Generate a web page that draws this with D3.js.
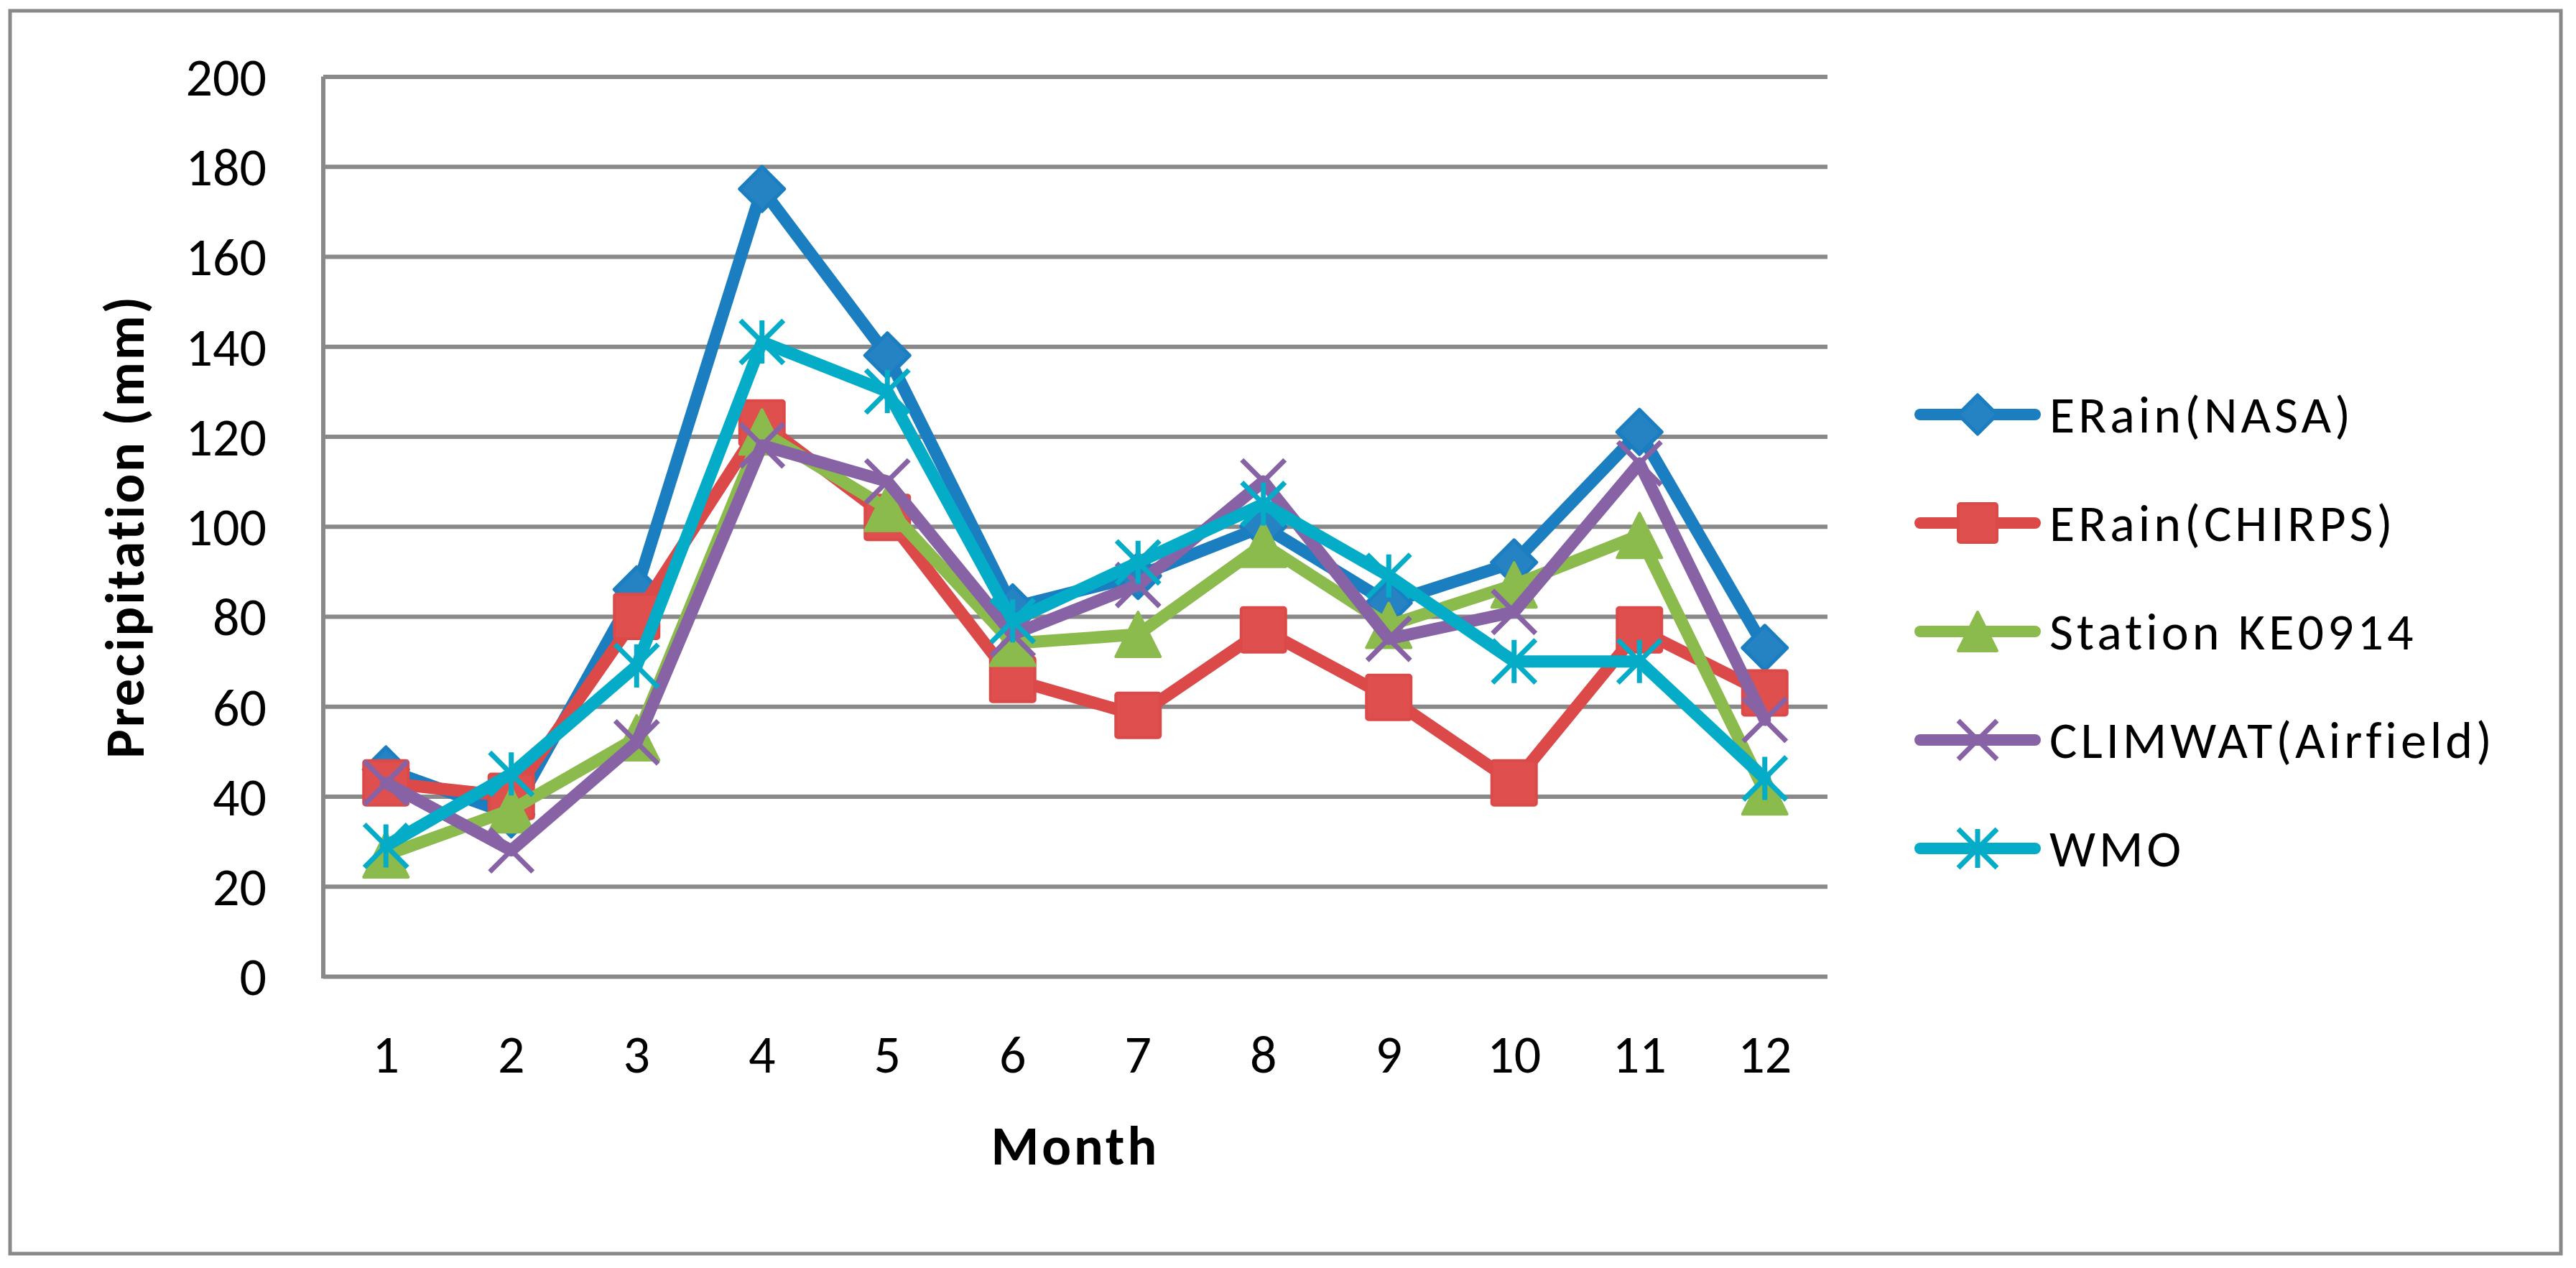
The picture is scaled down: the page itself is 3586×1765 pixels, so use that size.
<!DOCTYPE html>
<html>
<head>
<meta charset="utf-8">
<script src="https://cdn.jsdelivr.net/npm/d3@7"></script>
<style>
  html, body { margin: 0; padding: 0; background: #fff; }
  svg { display: block; }
  text { font-family: Carlito, Calibri, Lato, sans-serif; fill: #000; }
</style>
</head>
<body>
<svg id="chart" width="3586" height="1765"></svg>
<script>
// monthly precipitation (mm)
const months = [1, 2, 3, 4, 5, 6, 7, 8, 9, 10, 11, 12];
const erainNasa = [46, 36, 86, 175, 138, 82, 89, 100, 83, 92, 121, 73];
const erainChirps = [43, 40, 80, 123, 102, 66, 58, 77, 62, 43, 77, 63];
const stationKE0914 = [27, 37, 53, 121, 104, 74, 76, 96, 78, 87, 98, 41];
const climwatAirfield = [43, 28, 52, 118, 110, 76, 87, 110, 75, 81, 114, 57];
const wmo = [29, 45, 69, 141, 130, 79, 92, 105, 89, 70, 70, 44];
const yTicks = [0, 20, 40, 60, 80, 100, 120, 140, 160, 180, 200];

const series = [
  { name: 'ERain(NASA)', values: erainNasa, color: '#1a7ec0', fill: '#2583c4', marker: 'diamond' },
  { name: 'ERain(CHIRPS)', values: erainChirps, color: '#db4a48', fill: '#de4f4e', marker: 'square' },
  { name: 'Station KE0914', values: stationKE0914, color: '#8bba4d', fill: '#8bba4d', marker: 'triangle' },
  { name: 'CLIMWAT(Airfield)', values: climwatAirfield, color: '#8763a6', fill: 'none', marker: 'x' },
  { name: 'WMO', values: wmo, color: '#04acc7', fill: 'none', marker: 'star' }
];

const plot = { left: 450, right: 2544, top: 106.5, bottom: 1359 };
const grid = '#898989';
const fontSize = 72;
const tickSize = 74;
const fontFamily = 'Carlito, Calibri, Lato, sans-serif';

const svg = d3.select('#chart');

// outer frame
svg.append('rect')
  .attr('x', 14).attr('y', 15)
  .attr('width', 3565 - 14).attr('height', 1745 - 15)
  .attr('fill', '#fff')
  .attr('stroke', grid)
  .attr('stroke-width', 5);

const x = d3.scaleBand().domain(months).range([plot.left, plot.right]);
const cx = m => x(m) + x.bandwidth() / 2;
const y = d3.scaleLinear().domain([0, 200]).range([plot.bottom, plot.top]);

// horizontal gridlines + y labels
const yAxis = d3.axisLeft(y).tickValues(yTicks)
  .tickSize(-(plot.right - plot.left)).tickPadding(79).tickFormat(d3.format('d'));
const gy = svg.append('g')
  .attr('transform', `translate(${plot.left},0)`)
  .call(yAxis);
gy.select('.domain').attr('stroke', grid).attr('stroke-width', 6)
  .attr('d', `M0,${plot.top}V${plot.bottom + 3}`);
gy.selectAll('.tick line').attr('stroke', grid).attr('stroke-width', 6);
gy.selectAll('.tick text')
  .attr('font-size', tickSize)
  .attr('font-family', fontFamily)
  .attr('fill', '#000')
  .attr('dy', '0.35em');

// x labels
const xAxis = d3.axisBottom(x).tickSize(0).tickPadding(0);
const gx = svg.append('g')
  .attr('transform', `translate(0,${plot.bottom})`)
  .call(xAxis);
gx.select('.domain').remove();
gx.selectAll('.tick text')
  .attr('font-size', tickSize)
  .attr('font-family', fontFamily)
  .attr('fill', '#000')
  .attr('dy', 0)
  .attr('y', 1493 - plot.bottom);

// axis titles
svg.append('text')
  .attr('x', (plot.left + plot.right) / 2).attr('y', 1621)
  .attr('text-anchor', 'middle')
  .attr('font-size', 76).attr('font-weight', 'bold')
  .attr('letter-spacing', 4)
  .text('Month');

svg.append('text')
  .attr('transform', `translate(200,${(plot.top + plot.bottom) / 2}) rotate(-90)`)
  .attr('text-anchor', 'middle')
  .attr('font-size', 76).attr('font-weight', 'bold')
  .attr('letter-spacing', 3)
  .text('Precipitation (mm)');

// marker drawing
function drawMarker(g, s, h) {
  if (s.marker === 'diamond') {
    g.append('path')
      .attr('d', `M0,${-h}L${h},0L0,${h}L${-h},0Z`)
      .attr('fill', s.fill).attr('stroke', s.color).attr('stroke-width', 5)
      .attr('stroke-linejoin', 'round');
  } else if (s.marker === 'square') {
    g.append('rect')
      .attr('x', -h).attr('y', -h).attr('width', 2 * h).attr('height', 2 * h)
      .attr('rx', 3)
      .attr('fill', s.fill).attr('stroke', s.color).attr('stroke-width', 4);
  } else if (s.marker === 'triangle') {
    g.append('path')
      .attr('d', `M0,${-h}L${h},${h}L${-h},${h}Z`)
      .attr('fill', s.fill).attr('stroke', s.color).attr('stroke-width', 4)
      .attr('stroke-linejoin', 'round');
  } else {
    let d = `M${-h},${-h}L${h},${h}M${h},${-h}L${-h},${h}`;
    if (s.marker === 'star') d += `M0,${-h}L0,${h}`;
    g.append('path')
      .attr('d', d)
      .attr('fill', 'none').attr('stroke', s.color).attr('stroke-width', 7);
  }
}

const line = d3.line().x((d, i) => cx(months[i])).y(d => y(d));

series.forEach(s => {
  const g = svg.append('g');
  g.append('path')
    .datum(s.values)
    .attr('d', line)
    .attr('fill', 'none')
    .attr('stroke', s.color)
    .attr('stroke-width', 17)
    .attr('stroke-linejoin', 'round')
    .attr('stroke-linecap', 'round');
  s.values.forEach((v, i) => {
    const mg = g.append('g').attr('transform', `translate(${cx(months[i])},${y(v)})`);
    drawMarker(mg, s, s.marker === 'x' || s.marker === 'star' ? 30 : 31);
  });
});

// legend
const legend = svg.append('g');
series.forEach((s, i) => {
  const ry = 577 + i * 151;
  const lg = legend.append('g');
  lg.append('line')
    .attr('x1', 2673).attr('x2', 2833).attr('y1', ry).attr('y2', ry)
    .attr('stroke', s.color).attr('stroke-width', 16).attr('stroke-linecap', 'round');
  const mg = lg.append('g').attr('transform', `translate(2753,${ry})`);
  drawMarker(mg, s, 27);
  lg.append('text')
    .attr('x', 2853).attr('y', ry + 25)
    .attr('font-size', fontSize)
    .attr('letter-spacing', 5)
    .text(s.name);
});
</script>
</body>
</html>
